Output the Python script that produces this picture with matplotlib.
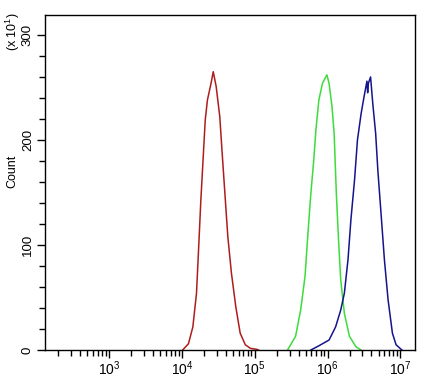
import numpy as np
import matplotlib
matplotlib.use("Agg")
import matplotlib.pyplot as plt
from matplotlib.ticker import LogLocator, FixedLocator, NullFormatter

plt.rcParams['font.family'] = ['Liberation Sans', 'DejaVu Sans']
plt.rcParams['mathtext.fontset'] = 'custom'
plt.rcParams['mathtext.rm'] = 'Liberation Sans'

# log10(intensity) and counts (x10^1)
red_log = [4.01, 4.09, 4.15, 4.20, 4.23, 4.26, 4.29, 4.32, 4.35, 4.40, 4.43, 4.47,
           4.52, 4.55, 4.59, 4.63, 4.68, 4.74, 4.80, 4.87, 4.94, 5.03, 5.05]
red_cnt = [0, 6, 22, 54, 98, 143, 181, 219, 238, 254, 265, 251,
           222, 190, 149, 108, 73, 41, 16, 5, 1.6, 0.6, 0]

green_log = [5.45, 5.56, 5.63, 5.69, 5.73, 5.77, 5.81, 5.84, 5.88, 5.93, 5.99, 6.02,
             6.06, 6.09, 6.12, 6.15, 6.18, 6.23, 6.30, 6.39, 6.46]
green_cnt = [0, 13, 38, 70, 111, 149, 181, 210, 238, 254, 262, 254,
             232, 206, 149, 105, 67, 35, 13, 3, 0]

blue_log = [5.77, 5.88, 6.02, 6.11, 6.18, 6.23, 6.28, 6.32, 6.37, 6.41, 6.46, 6.50,
            6.54, 6.55, 6.56, 6.59, 6.62, 6.66, 6.69, 6.74, 6.78, 6.83, 6.89, 6.94, 7.02]
blue_cnt = [0, 4, 9.5, 22, 38, 54, 86, 124, 162, 200, 225, 241,
            256, 245, 254, 260, 235, 206, 171, 124, 86, 48, 16, 5, 0]

series = [(red_log, red_cnt, '#b01c1c'),
          (green_log, green_cnt, '#3cdc3c'),
          (blue_log, blue_cnt, '#14148c')]

fig = plt.figure(figsize=(4.37, 3.8), dpi=100)
ax = fig.add_axes([45/437, 30/380, 370/437, 335/380])

for lg, ct, col in series:
    ax.plot(10 ** np.array(lg), ct, color=col, lw=1.1)

ax.set_xscale('log')
ax.set_xlim(10 ** 2.12, 10 ** 7.2)
ax.set_ylim(0, 319)

ax.xaxis.set_major_locator(LogLocator(base=10, numticks=10))
ax.xaxis.set_minor_locator(LogLocator(base=10, subs=np.arange(2, 10), numticks=20))
ax.xaxis.set_minor_formatter(NullFormatter())
ax.yaxis.set_major_locator(FixedLocator([0, 100, 200, 300]))
ax.yaxis.set_minor_locator(FixedLocator(np.arange(0, 320, 20)))

ax.tick_params(axis='x', which='major', length=6, width=1, labelsize=10, pad=1)
ax.tick_params(axis='x', which='minor', length=4, width=1)
ax.tick_params(axis='y', which='major', length=6, width=1, labelsize=9.5, pad=2)
ax.tick_params(axis='y', which='minor', length=4, width=1)
for lab in ax.get_yticklabels():
    lab.set_rotation(90)
    lab.set_va('center')

for s in ax.spines.values():
    s.set_linewidth(1)
    s.set_color('black')

ax.set_ylabel('Count', fontsize=9)
ax.yaxis.set_label_coords(-0.073, 0.534)
fig.text(13/437, 1 - 32/380, r'(x 10$^{1}$)', rotation=90, fontsize=9,
         ha='center', va='center')

fig.savefig('out.png', dpi=100)
